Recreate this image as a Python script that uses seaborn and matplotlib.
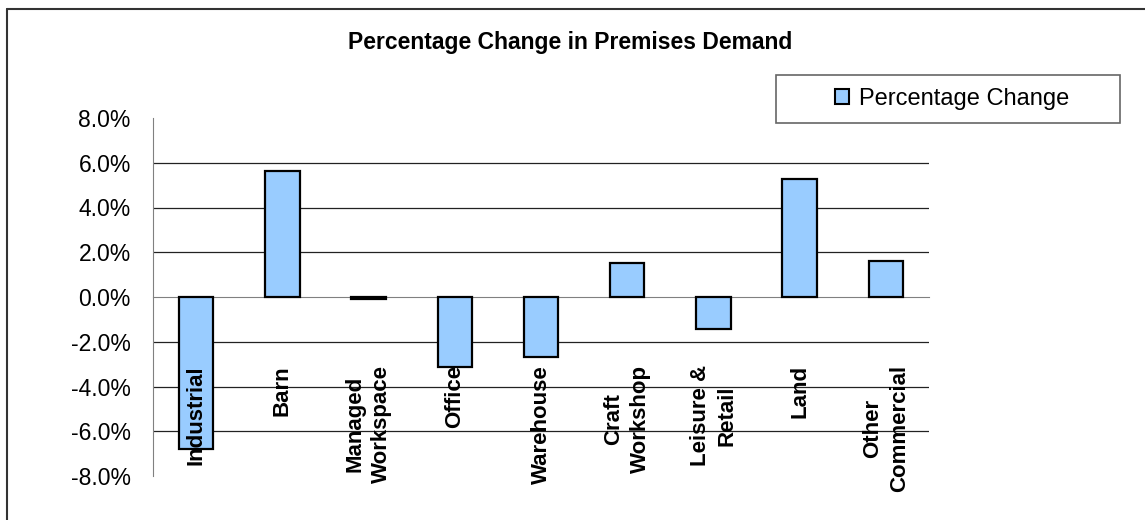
import matplotlib
matplotlib.use("Agg")
import matplotlib.pyplot as plt
import matplotlib.patches as mpatches
import matplotlib.lines as mlines
from matplotlib.ticker import PercentFormatter
import seaborn as sns

# data (percent)
categories = ["Industrial", "Barn", "Managed\nWorkspace", "Office", "Warehouse",
              "Craft\nWorkshop", "Leisure &\nRetail", "Land", "Other\nCommercial"]
pct_change = [-6.8, 5.65, -0.1, -3.15, -2.7, 1.52, -1.45, 5.28, 1.62]
y_ticks = [-8, -6, -4, -2, 0, 2, 4, 6, 8]
grid_levels = [-6, -4, -2, 2, 4, 6]

sns.set_style("white")
plt.rcParams["font.family"] = ["Liberation Sans", "DejaVu Sans"]
plt.rcParams["axes.unicode_minus"] = False

W, H = 1145, 520
fig = plt.figure(figsize=(W / 100, H / 100), dpi=100)
ax = fig.add_axes([153 / W, 1 - 476 / H, (929 - 153) / W, (476 - 118) / H])

for g in grid_levels:
    ax.axhline(g, color="#222222", lw=0.9, zorder=0)

sns.barplot(x=list(range(len(categories))), y=pct_change, color="#99CCFF",
            edgecolor="black", linewidth=1.6, width=0.4, saturation=1,
            ax=ax, zorder=2, native_scale=True)
ax.set_axisbelow(False)

ax.set_xlim(-0.5, len(categories) - 0.5)
ax.set_ylim(-8, 8)
ax.set_yticks(y_ticks)
ax.yaxis.set_major_formatter(PercentFormatter(xmax=100, decimals=1))
ax.tick_params(axis="y", length=6, width=1, color="#808080", pad=10, labelsize=16.5,
               labelcolor="black")

ax.spines["top"].set_visible(False)
ax.spines["right"].set_visible(False)
ax.spines["left"].set_color("#808080")
ax.spines["bottom"].set_color("#808080")
ax.spines["bottom"].set_position(("data", 0))
ax.spines["bottom"].set_zorder(1)

ax.set_xticks(range(len(categories)))
ax.set_xticklabels(categories, rotation=90, fontweight="bold", fontsize=16,
                   va="top", ha="center", multialignment="center", linespacing=1.35,
                   color="black")
ax.tick_params(axis="x", which="major", length=0, pad=49)
ax.set_xticks([i + 0.5 for i in range(len(categories))], minor=True)
ax.tick_params(axis="x", which="minor", length=4.5, width=1, color="#808080",
               direction="out")
ax.set_xlabel("")
ax.set_ylabel("")

fig.text(570 / W, 1 - 43 / H, "Percentage Change in Premises Demand",
         ha="center", va="center", fontsize=16.5, fontweight="bold", color="black")

# legend box
fig.patches.append(mpatches.Rectangle((776 / W, 1 - 123 / H), (1120 - 776) / W, 48 / H,
                                      transform=fig.transFigure, fill=False,
                                      edgecolor="#666666", lw=1.2))
handle = mpatches.Patch(facecolor="#99CCFF", edgecolor="black", lw=1.5,
                        label="Percentage Change")
leg = fig.legend(handles=[handle], loc="center", bbox_to_anchor=(952 / W, 1 - 99 / H),
                 frameon=False, fontsize=17, handlelength=0.6, handleheight=0.6,
                 handletextpad=0.4)
for t in leg.get_texts():
    t.set_color("black")

# outer chart border (top and left edges visible)
fig.lines.append(mlines.Line2D([7 / W, 7 / W], [0, 1 - 9 / H], transform=fig.transFigure,
                               color="#333333", lw=1.5))
fig.lines.append(mlines.Line2D([7 / W, 1], [1 - 9 / H, 1 - 9 / H], transform=fig.transFigure,
                               color="#333333", lw=1.5))

fig.savefig("out.png", dpi=100)
